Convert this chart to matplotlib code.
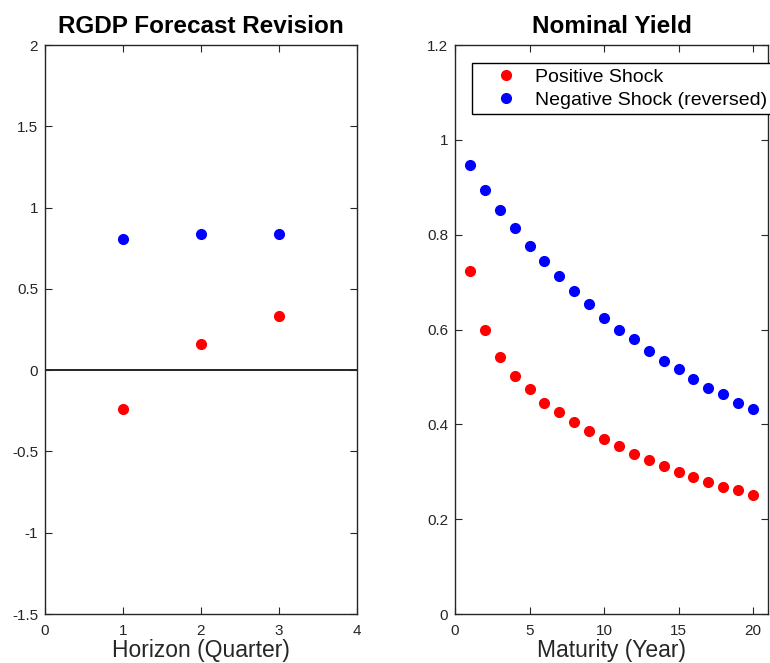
"""
Two scatter panels: RGDP forecast revision by horizon and nominal yield response by maturity.
"""

import numpy as np
import matplotlib.pyplot as plt

plt.rcParams['font.family'] = ['Liberation Sans', 'DejaVu Sans']

# RGDP forecast revision, by horizon (quarter)
horizon = [1, 2, 3]
rgdp_pos = [-0.239, 0.159, 0.333]
rgdp_neg = [0.804, 0.835, 0.835]

# nominal yield response, by maturity (year)
maturity = list(range(1, 21))
yield_pos = [0.724, 0.600, 0.541, 0.502, 0.475, 0.446, 0.426, 0.404, 0.387, 0.369,
             0.355, 0.337, 0.324, 0.313, 0.299, 0.288, 0.278, 0.268, 0.261, 0.250]
yield_neg = [0.948, 0.895, 0.853, 0.815, 0.776, 0.744, 0.713, 0.682, 0.653, 0.625,
             0.600, 0.579, 0.555, 0.534, 0.516, 0.495, 0.477, 0.463, 0.446, 0.432]

left_ticks = [-1.5, -1, -0.5, 0, 0.5, 1, 1.5, 2]
left_ticklabels = ['-1.5', '-1', '-0.5', '0', '0.5', '1', '1.5', '2']
right_ticks = [0, 0.2, 0.4, 0.6, 0.8, 1, 1.2]
right_ticklabels = ['0', '0.2', '0.4', '0.6', '0.8', '1', '1.2']

dark = '#262626'


def style_axes(ax):
    # matlab-like box with inward ticks on all sides
    for s in ax.spines.values():
        s.set_color(dark)
        s.set_linewidth(1.0)
    ax.tick_params(direction='in', top=True, right=True, length=5, width=0.8,
                   colors=dark, labelsize=11)
    ax.tick_params(axis='x', pad=7)
    ax.tick_params(axis='y', pad=5)


fig = plt.figure(figsize=(7.7, 6.63), dpi=100)

ax1 = fig.add_axes([0.0584, 0.0739, 0.4052, 0.8582])
ax1.axhline(0, color='black', linewidth=1.2, zorder=1)
ax1.plot(horizon, rgdp_pos, 'o', color=(1, 0, 0), markersize=7, zorder=3)
ax1.plot(horizon, rgdp_neg, 'o', color=(0, 0, 1), markersize=7, zorder=3)
ax1.set_xlim(0, 4)
ax1.set_ylim(-1.5, 2)
ax1.set_xticks([0, 1, 2, 3, 4])
ax1.set_yticks(left_ticks)
ax1.set_yticklabels(left_ticklabels)
ax1.set_title('RGDP Forecast Revision', fontsize=17.5, fontweight='bold', pad=9)
ax1.set_xlabel('Horizon (Quarter)', fontsize=16.5, color=dark, labelpad=1)
style_axes(ax1)

ax2 = fig.add_axes([0.5909, 0.0739, 0.4065, 0.8582])
ax2.plot(maturity, yield_pos, 'o', color=(1, 0, 0), markersize=7, label='Positive Shock')
ax2.plot(maturity, yield_neg, 'o', color=(0, 0, 1), markersize=7,
         label='Negative Shock (reversed)')
ax2.set_xlim(0, 21)
ax2.set_ylim(0, 1.2)
ax2.set_xticks([0, 5, 10, 15, 20])
ax2.set_yticks(right_ticks)
ax2.set_yticklabels(right_ticklabels)
ax2.set_title('Nominal Yield', fontsize=17.5, fontweight='bold', pad=9)
ax2.set_xlabel('Maturity (Year)', fontsize=16.5, color=dark, labelpad=1)
style_axes(ax2)

leg = ax2.legend(loc='upper left', bbox_to_anchor=(0.054, 0.968), borderaxespad=0,
                 fontsize=14, frameon=True, fancybox=False, shadow=False,
                 numpoints=1, handletextpad=0.0, handlelength=3.0, borderpad=0.25,
                 labelspacing=0.3, framealpha=1)
leg.get_frame().set_edgecolor('black')
leg.get_frame().set_linewidth(1.0)

fig.savefig('out.png', dpi=100)
